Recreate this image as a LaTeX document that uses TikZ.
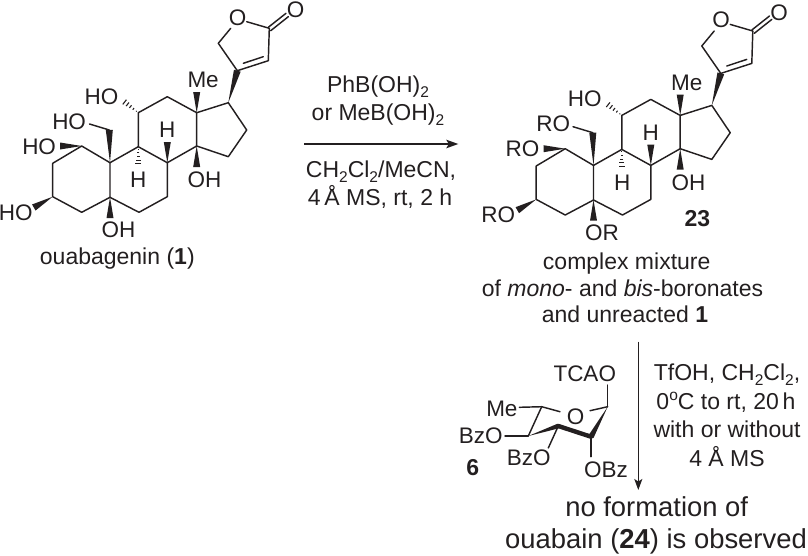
\documentclass[tikz,border=0pt]{standalone}
\usepackage{fontspec}
\setmainfont{Liberation Sans}
\usetikzlibrary{calc,arrows.meta}
\definecolor{ink}{HTML}{231F20}
\newcommand\sbs[1]{\raisebox{-0.22em}{\fontsize{15.5}{15.5}\selectfont #1}}
\newcommand\wdg[3][3.5]{\fill[ink] (#2) -- ($(#3)!#1pt!90:(#2)$) -- ($(#3)!#1pt!-90:(#2)$) -- cycle;}
\newcommand\hsh[3][3.5]{%
  \foreach \t in {0.12,0.3,0.48,0.66,0.84,1.0}{%
    \draw[ink,line width=1.1pt] ($(#2)!\t!(#3)!\t*#1 pt!90:(#3)$) -- ($(#2)!\t!(#3)!\t*#1 pt!-90:(#3)$);}}
\tikzset{
  bond/.style={draw=ink,line width=1.45pt,line join=round,line cap=round},
  atom/.style={inner sep=0pt,outer sep=0pt,text=ink,font=\fontsize{22.5}{26}\selectfont},
  txt/.style={inner sep=0pt,outer sep=0pt,text=ink,anchor=base,font=\fontsize{23}{27}\selectfont},
  big/.style={inner sep=0pt,outer sep=0pt,text=ink,anchor=base,font=\fontsize{27.4}{32}\selectfont},
}
\newcommand\skeleton{%
  \coordinate (c1) at (81.7,146);
  \coordinate (c2) at (52.7,163.3);
  \coordinate (c3) at (52.7,196.7);
  \coordinate (c4) at (81.7,212.3);
  \coordinate (c5) at (110,197.3);
  \coordinate (c6) at (139,212.3);
  \coordinate (c7) at (167.3,196.7);
  \coordinate (c8) at (167.3,162.7);
  \coordinate (c9) at (138.3,146.7);
  \coordinate (c10) at (110,162.7);
  \coordinate (c11) at (138.3,112.7);
  \coordinate (c12) at (167.3,96.7);
  \coordinate (c13) at (196.7,112.7);
  \coordinate (c14) at (196.7,146);
  \coordinate (c15) at (228.3,156.7);
  \coordinate (c16) at (246.7,130);
  \coordinate (c17) at (228.3,102.7);
  \coordinate (c20) at (237.3,70.7);
  \coordinate (c21) at (218.3,43.3);
  \coordinate (c22) at (268.3,60.7);
  \coordinate (c23) at (269.3,28.3);
  \coordinate (oa) at (230.7,28.3);
  \coordinate (ob) at (246.7,21.7);
  \coordinate (d1) at (243.3,63.3);
  \coordinate (d2) at (263.3,56.7);
  \coordinate (e1) at (268.3,27.3);
  \coordinate (e2) at (286,13.3);
  \coordinate (e3) at (270.7,30.7);
  \coordinate (e4) at (288.3,16.7);
  \coordinate (w1) at (60,146);
  \coordinate (w3) at (33.8,207.5);
  \coordinate (w5) at (110,218);
  \coordinate (w8) at (167.3,142);
  \coordinate (w9) at (138.3,167);
  \coordinate (w10) at (109.3,130);
  \coordinate (w10b) at (89.5,124);
  \coordinate (w11) at (122,100);
  \coordinate (w13) at (196.7,92);
  \coordinate (w14) at (196.7,167);
  \path[bond] (c1) -- (c2) -- (c3) -- (c4) -- (c5) -- (c10) -- cycle;
  \path[bond] (c5) -- (c6) -- (c7) -- (c8) -- (c9) -- (c10);
  \path[bond] (c9) -- (c11) -- (c12) -- (c13) -- (c14) -- (c8);
  \path[bond] (c13) -- (c17) -- (c16) -- (c15) -- (c14);
  \path[bond] (oa) -- (c21) -- (c20) -- (c22) -- (c23) -- (ob);
  \path[bond] (d1) -- (d2);
  \path[bond] (e1) -- (e2);
  \path[bond] (e3) -- (e4);
  \path[bond] (w10) -- (w10b);
  \wdg{c1}{w1}
  \wdg{c3}{w3}
  \wdg{c5}{w5}
  \wdg{c8}{w8}
  \wdg{c10}{w10}
  \wdg{c13}{w13}
  \wdg{c14}{w14}
  \wdg{c17}{c20}
  \hsh{c9}{w9}
  \hsh{c11}{w11}
  \node[atom] (ringO) at (237.7,17.3) {O};
  \node[atom] (exoO) at (295.7,9.6) {O};
}
\begin{document}
\begin{tikzpicture}[x=1pt,y=-1pt]
\useasboundingbox (0,0) rectangle (808,555);
\begin{scope}[name prefix=a-]
  \skeleton
  \node[atom,anchor=base east] (a1) at (118.3,104) {HO};
  \node[atom,anchor=base east] (a2) at (86,129.3) {HO};
  \node[atom,anchor=base east] (a3) at (56,154.3) {HO};
  \node[atom,anchor=base east] (a4) at (32.7,220) {HO};
  \node[atom,anchor=base west] (a5) at (101.7,237.3) {OH};
  \node[atom,anchor=base] (a6) at (138.3,187.7) {H};
  \node[atom,anchor=base] (a7) at (167.3,137.7) {H};
  \node[atom,anchor=base west] (a8) at (187.7,187.7) {OH};
  \node[atom,anchor=base west] (a9) at (187.5,87.7) {Me};
\end{scope}
\node[txt] (name1) at (117.3,264) {ouabagenin (\textbf{1})};
\begin{scope}[shift={(483.5,2.7)},name prefix=b-]
  \skeleton
\end{scope}
\node[atom,anchor=base east] (b1) at (601.7,106.7) {HO};
\node[atom,anchor=base east] (b2) at (570,131.7) {RO};
\node[atom,anchor=base east] (b3) at (539.3,156) {RO};
\node[atom,anchor=base east] (b4) at (515,222.7) {RO};
\node[atom,anchor=base west] (b5) at (585,240) {OR};
\node[atom,anchor=base] (b6) at (622.3,190) {H};
\node[atom,anchor=base] (b7) at (650.7,140) {H};
\node[atom,anchor=base west] (b8) at (671.7,190) {OH};
\node[atom,anchor=base west] (b9) at (671,90) {Me};
\node[txt,font=\fontsize{23}{27}\selectfont\bfseries] (n23) at (697.3,226.7) {23};
\node[txt] (l1) at (626.7,269.3) {complex mixture};
\node[txt] (l2) at (622.5,296) {of \textit{mono}- and \textit{bis}-boronates};
\node[txt] (l3) at (625,322.7) {and unreacted \textbf{1}};
% top arrow
\coordinate (r1) at (304,144);
\coordinate (r2) at (458.3,144);
\draw[ink,line width=1.6pt,-{Stealth[length=12pt,width=8.5pt,inset=2.5pt]}] (r1) -- (r2);
\node[txt] (t1) at (378,92.3) {PhB(OH)\sbs{2}};
\node[txt] (t2) at (378,120.7) {or MeB(OH)\sbs{2}};
\node[txt] (t3) at (381,177.3) {CH\sbs{2}Cl\sbs{2}/MeCN,};
\node[txt] (t4) at (380,205.7) {4\,Å MS, rt, 2 h};
% down arrow
\coordinate (s1) at (638.3,341.7);
\coordinate (s2) at (638.3,490);
\draw[ink,line width=1.2pt,-{Stealth[length=11pt,width=8pt,inset=2.5pt]}] (s1) -- (s2);
\node[txt] (u1) at (727,380.7) {TfOH, CH\sbs{2}Cl\sbs{2},};
\node[txt] (u2) at (726,409.3) {0\raisebox{0.38em}{\fontsize{15.5}{15.5}\selectfont o}C to rt, 20\,h};
\node[txt] (u3) at (727,437.7) {with or without};
\node[txt] (u4) at (727,466) {4 Å MS};
\node[big] (v1) at (656.7,516.7) {no formation of};
\node[big] (v2) at (656,548.3) {ouabain (\textbf{24}) is observed};
% glycosyl donor
\coordinate (p1) at (607.7,406.7);
\coordinate (p2) at (591,436.7);
\coordinate (p3) at (558.3,426);
\coordinate (p4) at (528.3,436);
\coordinate (p5) at (541.7,406.7);
\coordinate (pa) at (560,411.7);
\coordinate (pb) at (590,410.7);
\coordinate (q1) at (607.7,385);
\coordinate (q2) at (591,456.7);
\coordinate (q3) at (548.3,448);
\coordinate (q4) at (505,436);
\coordinate (q5) at (519.3,407.3);
\node[atom] (pO) at (575.7,416.7) {O};
\node[atom,anchor=base east] (pd1) at (616,381.7) {TCAO};
\node[atom,anchor=base west] (pd2) at (584,477.3) {OBz};
\node[atom,anchor=base east] (pd3) at (550.7,465) {BzO};
\node[atom,anchor=base east] (pd4) at (502.7,443) {BzO};
\node[atom,anchor=base east] (pd5) at (517.5,416) {Me};
\node[txt,font=\fontsize{23}{27}\selectfont\bfseries] (n6) at (472.7,475) {6};
\path[bond] (p5) -- (p4);
\path[bond] (p5) -- (pa);
\path[bond] (pb) -- (p1);
\path[bond] (p1) -- (q1);
\path[bond] (p2) -- (q2);
\path[bond] (p3) -- (q3);
\path[bond] (p4) -- (q4);
\path[bond] (p5) -- (q5);
\wdg[2.4]{p4}{p3}
\wdg[2.8]{p1}{p2}
\draw[ink,line width=4.4pt,line cap=round] (p3) -- (p2);
\end{tikzpicture}
\end{document}
